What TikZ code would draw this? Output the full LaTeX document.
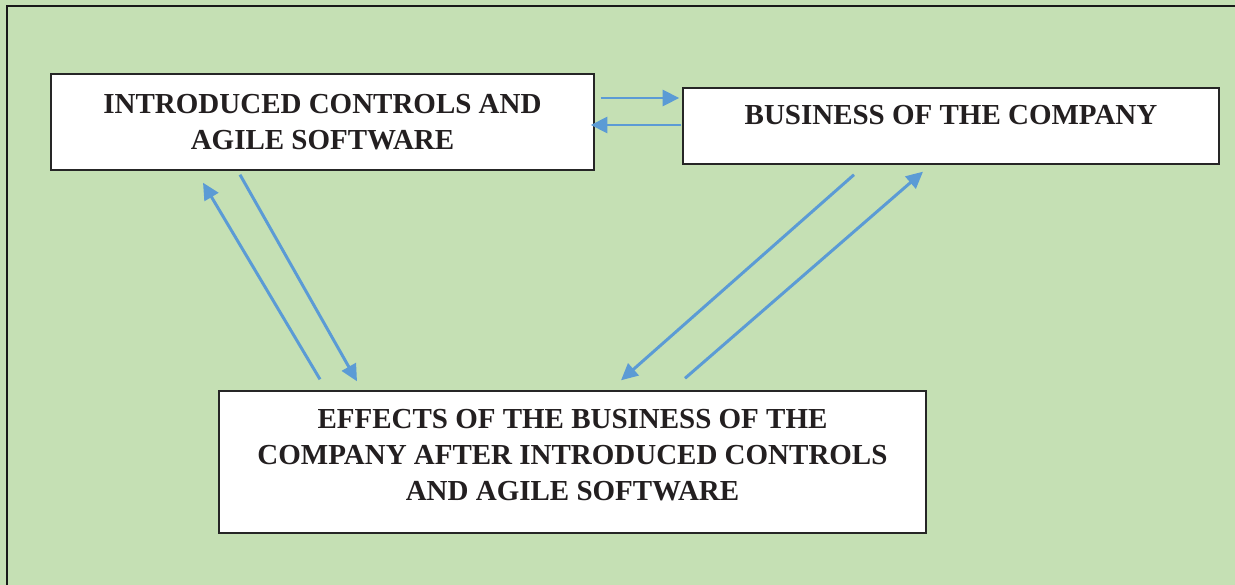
\documentclass[tikz,border=0pt]{standalone}
\usepackage{fontspec}
\setmainfont{Liberation Serif}
\usetikzlibrary{arrows.meta,calc}
\definecolor{bggreen}{HTML}{C5E0B4}
\definecolor{arrblue}{HTML}{5B9BD5}
\definecolor{inkgray}{HTML}{231F20}
\tikzset{
  box/.style={
    draw=black!85,
    line width=0.8pt,
    fill=white,
    rectangle,
    align=center,
    inner sep=0pt,
    text=inkgray,
    font=\fontsize{16.5}{20.4}\selectfont\bfseries,
  },
  arr/.style={-{Triangle[length=9.5pt, width=9pt]}, line width=1.7pt, arrblue},
  frame/.style={draw=black!90, line width=1.4pt},
}
\begin{document}
\begin{tikzpicture}[x=0.02cm, y=-0.02cm]
  \fill[bggreen] (0,0) rectangle (1235,585);
  \useasboundingbox (0,0) rectangle (1235,585);
  \draw[frame] (7,600) -- (7,6) -- (1250,6);

  \node[box, minimum width=10.86cm, minimum height=1.92cm] (intro) at (322.5,122) {INTRODUCED CONTROLS AND\\AGILE SOFTWARE};
  \node[box, minimum width=10.72cm, minimum height=1.52cm, text height=10pt, text depth=12pt] (biz) at (951,126) {BUSINESS OF THE COMPANY};
  \node[box, minimum width=14.14cm, minimum height=2.84cm, text depth=8pt] (eff) at (572.5,462) {EFFECTS OF THE BUSINESS OF THE\\COMPANY AFTER INTRODUCED CONTROLS\\AND AGILE SOFTWARE};

  \draw[arr] ([shift={(6,-24)}]intro.east) -- ([shift={(-3,-28)}]biz.west);
  \draw[arr] ([shift={(-1,-1)}]biz.west) -- ([shift={(-4,3)}]intro.east);

  \draw[arr] ([shift={(-82.5,4)}]intro.south) -- ([shift={(-215.5,-9)}]eff.north);
  \draw[arr] ([shift={(-252.5,-11)}]eff.north) -- ([shift={(-119.5,12)}]intro.south);

  \draw[arr] ([shift={(-97,10)}]biz.south) -- ([shift={(48.5,-10)}]eff.north);
  \draw[arr] ([shift={(112.5,-12)}]eff.north) -- ([shift={(-28,7)}]biz.south);
\end{tikzpicture}
\end{document}
